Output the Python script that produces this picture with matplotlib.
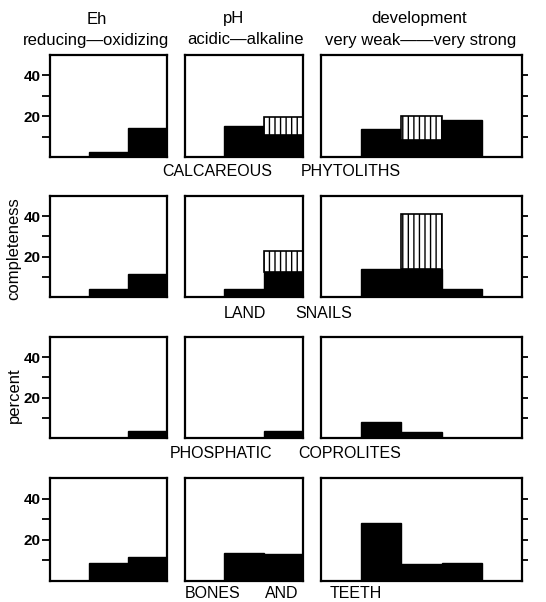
import matplotlib
matplotlib.use("Agg")
import matplotlib.pyplot as plt

# --- data (percent completeness) ---
rows = ["CALCAREOUS PHYTOLITHS", "LAND SNAILS", "PHOSPHATIC COPROLITES", "BONES AND TEETH"]

eh_black = [[0, 2.5, 14], [0, 3.8, 11.2], [0, 0, 3.5], [0, 8.7, 11.8]]
ph_black = [[0, 15, 11], [0, 4, 12.5], [0, 0, 3.5], [0, 13.4, 13]]
ph_hatch = [[0, 0, 19.5], [0, 0, 23], [0, 0, 0], [0, 0, 0]]
dev_black = [[0, 13.5, 8.5, 18, 0], [0, 14, 14, 3.8, 0], [0, 8, 2.8, 0, 0], [0, 28.3, 8.2, 8.7, 0]]
dev_hatch = [[0, 0, 20, 0, 0], [0, 0, 41, 0, 0], [0, 0, 0, 0, 0], [0, 0, 0, 0, 0]]

W, H = 546, 602
fig = plt.figure(figsize=(W / 100, H / 100), dpi=100)
plt.rcParams["font.family"] = ["Liberation Sans", "DejaVu Sans"]

cols_px = [(50, 167), (185, 303), (321, 522)]
rows_px = [(55, 157), (196, 297), (337, 438), (478, 581)]


def px_axes(x0, x1, y0, y1):
    return fig.add_axes([x0 / W, 1 - y1 / H, (x1 - x0) / W, (y1 - y0) / H])


def draw(ax, black, hatch):
    n = len(black)
    x = list(range(n))
    ax.bar(x, black, width=1, align="edge", color="black", edgecolor="black", linewidth=1)
    tops = [max(h - b, 0) for h, b in zip(hatch, black)]
    for i in range(n):
        if tops[i] > 0:
            ax.bar(i, tops[i], bottom=black[i], width=1, align="edge",
                   facecolor="white", edgecolor="black", hatch="|||", linewidth=1.2)
    ax.set_xlim(0, n)
    ax.set_ylim(0, 50)
    ax.set_xticks([])
    for s in ax.spines.values():
        s.set_linewidth(1.6)


for r in range(4):
    y0, y1 = rows_px[r]
    # Eh
    ax = px_axes(*cols_px[0], y0, y1)
    draw(ax, eh_black[r], [0, 0, 0])
    ax.set_yticks([20, 40])
    ax.set_yticks([10, 30], minor=True)
    ax.tick_params(axis="y", which="both", direction="out", length=6, width=1.3, pad=0.5)
    for lab in ax.get_yticklabels():
        lab.set_family(["Liberation Sans Narrow", "Liberation Sans", "DejaVu Sans"])
        lab.set_fontweight("bold")
        lab.set_fontsize(11)
    # pH
    ax = px_axes(*cols_px[1], y0, y1)
    draw(ax, ph_black[r], ph_hatch[r])
    ax.set_yticks([])
    # development
    ax = px_axes(*cols_px[2], y0, y1)
    draw(ax, dev_black[r], dev_hatch[r])
    ax.set_yticks([10, 20, 30, 40])
    ax.yaxis.tick_right()
    ax.tick_params(axis="y", direction="out", length=4, width=1.3, labelright=False)


def ftext(x, y, s, **kw):
    fig.text(x / W, 1 - y / H, s, ha="center", va="center", **kw)


fs = 12
ftext(97, 19, "Eh", fontsize=fs)
ftext(96, 40, "reducing\u2014oxidizing", fontsize=fs)
ftext(234, 19, "pH", fontsize=fs)
ftext(245, 40, "acidic\u2014alkaline", fontsize=fs)
ftext(419, 19, "development", fontsize=fs)
ftext(421, 40, "very weak\u2014\u2014very strong", fontsize=fs)

fs2 = 11.5
ftext(217, 172, "CALCAREOUS", fontsize=fs2)
ftext(351, 172, "PHYTOLITHS", fontsize=fs2)
ftext(245, 313, "LAND", fontsize=fs2)
ftext(324, 313, "SNAILS", fontsize=fs2)
ftext(221, 453, "PHOSPHATIC", fontsize=fs2)
ftext(350, 453, "COPROLITES", fontsize=fs2)
ftext(213, 594, "BONES", fontsize=fs2)
ftext(282, 594, "AND", fontsize=fs2)
ftext(356, 594, "TEETH", fontsize=fs2)

ftext(14, 249, "completeness", fontsize=fs, rotation=90)
ftext(14, 395, "percent", fontsize=fs, rotation=90)

fig.savefig("out.png", dpi=100)
